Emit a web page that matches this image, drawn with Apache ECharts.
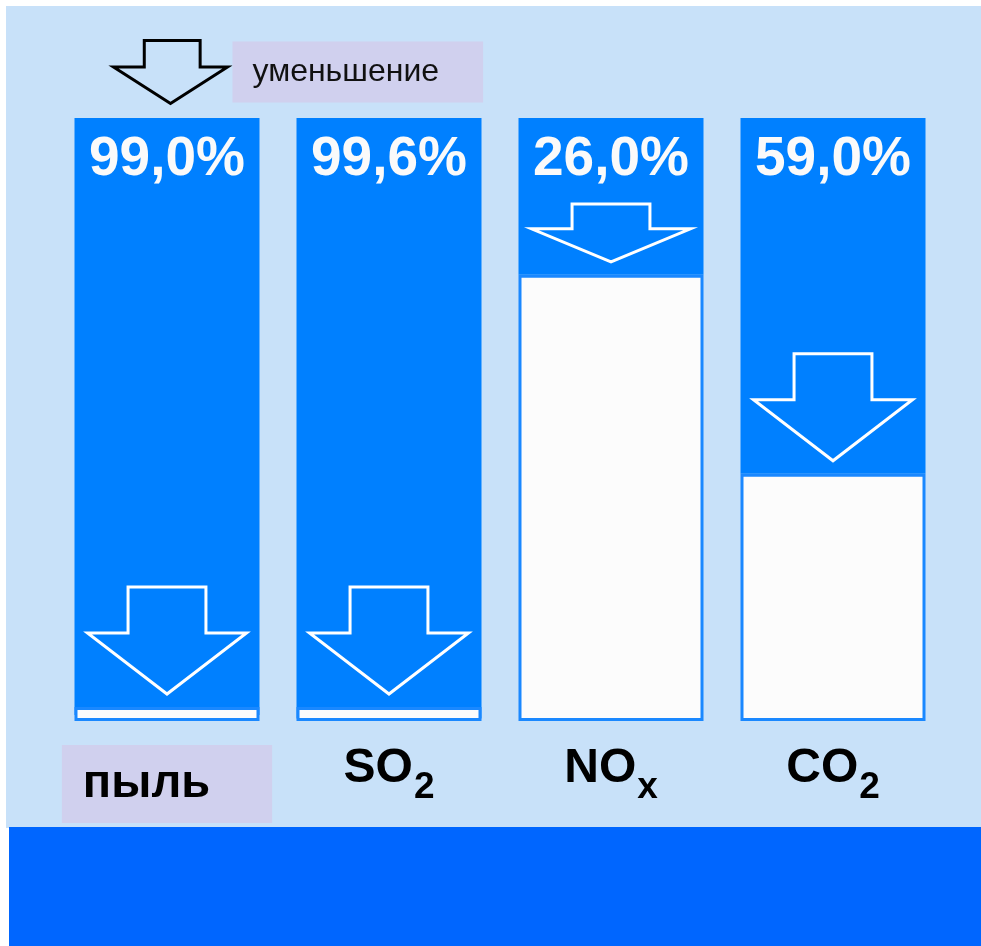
<!DOCTYPE html>
<html>
    <head>
        <meta charset="utf-8">
        <title></title>
        <script src="https://cdn.jsdelivr.net/npm/echarts@6/dist/echarts.min.js"></script>
        <style>
            body { margin: 0; background: #fff; }
        </style>
    </head>
    <body>
    <div id="main" style="width: 981px;height:946px;"></div>
    <script type="text/javascript">
        var categories = ['пыль', 'SO2', 'NOx', 'CO2']
        // уменьшение выбросов, %
        var reduction = [99.0, 99.6, 26.0, 59.0]
        var legendName = 'уменьшение'

        var remaining = reduction.map(function(r){ return +(100 - r).toFixed(1) })

        var arrowPath = 'path://M27,0 L76,0 L76,42 L100,42 L50,100 L0,42 L27,42 Z'

        var myChart = echarts.init(document.getElementById('main'))

        // подпись категории: химическая формула с индексом
        var catLabel = function(v){
            var m = v.match(/^([A-Z]+)([0-9x])$/)
            if (m) {
                return '{m|' + m[1] + '}{s|' + m[2] + '}'
            }
            return '{box|' + v + '}'
        }

        var fmtPct = function(p){
            return p.value.toFixed(1).replace('.', ',') + '%'
        }

        // стрелка внутри синей части столбца
        var renderArrow = function(params, api){
            var i = api.value(0)
            var base = api.coord([i, 0])
            var top = api.coord([i, 100])
            var rem = api.coord([i, api.value(1)])
            var cx = base[0]
            var w = api.size([1, 0])[0] * 0.716
            var bottomY = Math.min(rem[1], base[1] - 14) - 13
            var topY = Math.max(bottomY - 107, top[1] + 86)
            var h = bottomY - topY
            var sw = w * 0.245
            var sh = topY + h * 0.43
            return {
                type: 'polygon',
                shape: {
                    points: [
                        [cx - sw, topY], [cx + sw, topY], [cx + sw, sh],
                        [cx + w / 2, sh], [cx, bottomY], [cx - w / 2, sh], [cx - sw, sh]
                    ]
                },
                style: { fill: 'none', stroke: '#fff', lineWidth: 3, lineJoin: 'miter' }
            }
        }

        var option = {
            backgroundColor: '#fff',
            animation: false,
            graphic: [
                { type: 'rect', z: -10, shape: { x: 6, y: 6, width: 975, height: 822 }, style: { fill: '#c8e1f9' } },
                { type: 'rect', z: -10, shape: { x: 9, y: 827, width: 972, height: 119 }, style: { fill: '#0066ff' } }
            ],
            legend: {
                left: 112,
                top: 39,
                padding: 0,
                itemWidth: 114,
                itemHeight: 63,
                symbolKeepAspect: false,
                selectedMode: false,
                data: [{
                    name: legendName,
                    icon: arrowPath,
                    itemStyle: { color: 'transparent', borderColor: '#000', borderWidth: 3 }
                }],
                textStyle: {
                    fontFamily: 'Liberation Sans, Arial, sans-serif',
                    fontSize: 32,
                    lineHeight: 33,
                    color: '#111',
                    backgroundColor: '#d0d0ee',
                    padding: [14, 44, 14, 20]
                }
            },
            grid: {
                left: 56,
                right: 37,
                top: 118,
                bottom: 225
            },
            xAxis: {
                type: 'category',
                data: categories,
                axisLine: { show: false },
                axisTick: { show: false },
                axisLabel: {
                    margin: 24,
                    formatter: catLabel,
                    rich: {
                        m: {
                            fontFamily: 'Liberation Sans, Arial, sans-serif',
                            fontWeight: 'bold',
                            fontSize: 48,
                            lineHeight: 48,
                            color: '#000',
                            verticalAlign: 'top'
                        },
                        s: {
                            fontFamily: 'Liberation Sans, Arial, sans-serif',
                            fontWeight: 'bold',
                            fontSize: 37,
                            lineHeight: 37,
                            color: '#000',
                            padding: [24, 0, 0, 1],
                            verticalAlign: 'top'
                        },
                        box: {
                            fontFamily: 'Liberation Sans, Arial, sans-serif',
                            fontWeight: 'bold',
                            fontSize: 47,
                            lineHeight: 78,
                            color: '#000',
                            backgroundColor: '#d0d0ee',
                            padding: [16, 62, 15, 21]
                        }
                    }
                }
            },
            yAxis: {
                type: 'value',
                min: 0,
                max: 100,
                show: false
            },
            series: [
                {
                    name: 'остаток',
                    type: 'bar',
                    stack: 'all',
                    barWidth: 185,
                    barMinHeight: 14,
                    z: 3,
                    data: remaining,
                    itemStyle: { color: '#fcfcfc', borderColor: '#1a88ff', borderWidth: 3 }
                },
                {
                    name: legendName,
                    type: 'bar',
                    stack: 'all',
                    barWidth: 185,
                    z: 2,
                    data: reduction,
                    itemStyle: { color: '#0080ff' },
                    label: {
                        show: true,
                        position: 'insideTop',
                        distance: 14,
                        formatter: fmtPct,
                        fontFamily: 'Liberation Sans, Arial, sans-serif',
                        fontWeight: 'bold',
                        fontSize: 55,
                        color: '#fafafa'
                    }
                },
                {
                    type: 'custom',
                    z: 4,
                    renderItem: renderArrow,
                    data: remaining.map(function(v, i){ return [i, v] })
                }
            ]
        }
        myChart.setOption(option)
    </script>
    </body>
</html>
